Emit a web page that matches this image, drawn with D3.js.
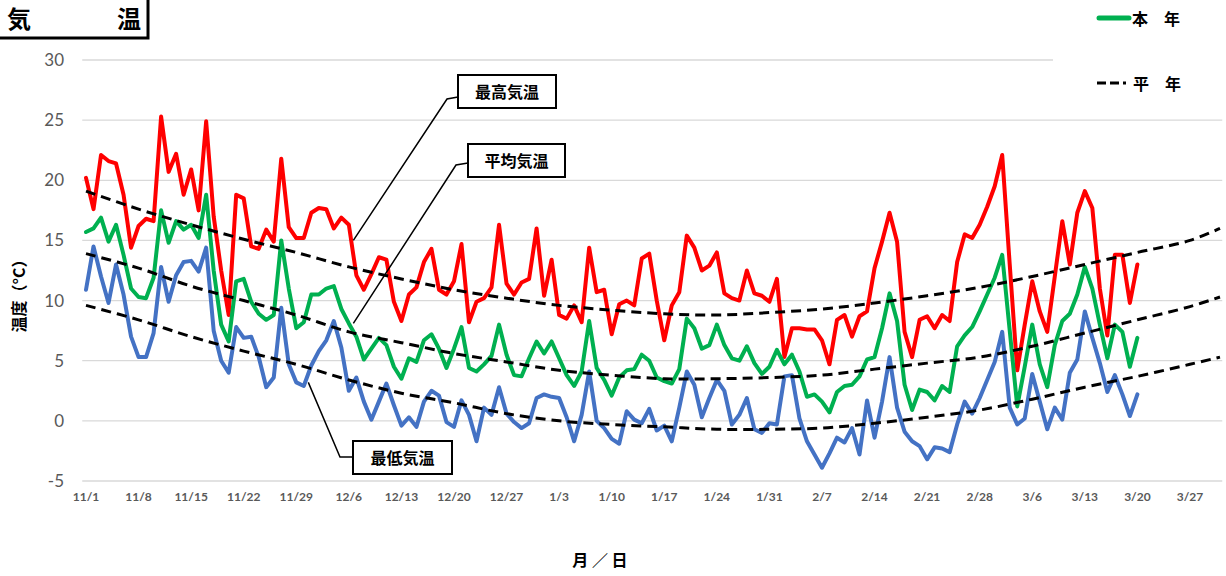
<!DOCTYPE html>
<html><head><meta charset="utf-8">
<script src="https://cdn.jsdelivr.net/npm/d3@7"></script>
<style>
html,body{margin:0;padding:0;background:#fff;}
svg{display:block;}
</style>
</head><body>
<svg id="chart" width="1226" height="576"></svg>
<script>
// ---- data ----
const tickLabels = ["11/1","11/8","11/15","11/22","11/29","12/6","12/13","12/20","12/27","1/3","1/10","1/17","1/24","1/31","2/7","2/14","2/21","2/28","3/6","3/13","3/20","3/27"];
const yTicks = [-5,0,5,10,15,20,25,30];

const tMax = [20.2,17.6,22.1,21.6,21.4,18.8,14.4,16.2,16.8,16.6,25.3,20.7,22.2,18.8,20.9,17.5,24.9,17.0,12.5,8.8,
18.8,18.5,14.5,14.3,15.9,14.9,21.8,16.1,15.2,15.2,17.3,17.7,17.6,16.0,16.9,16.3,12.1,10.9,12.2,13.6,
13.4,9.9,8.3,10.5,11.1,13.2,14.3,10.9,10.5,11.6,14.7,8.2,9.9,10.2,11.1,16.3,11.4,10.5,11.5,11.8,
16.0,10.4,13.4,8.8,8.5,9.6,8.2,14.4,10.7,10.9,7.2,9.7,10.0,9.6,13.5,13.9,10.0,6.7,9.6,10.7,
15.4,14.4,12.5,12.9,14.0,10.6,10.2,10.0,12.5,10.6,10.4,9.9,11.8,5.3,7.7,7.7,7.6,7.6,6.7,4.7,
8.4,8.8,7.0,8.7,9.1,12.7,14.9,17.3,14.9,7.4,5.3,8.4,8.7,7.7,8.8,8.3,13.2,15.5,15.2,16.3,
17.8,19.5,22.1,13.0,4.2,8.0,11.6,9.1,7.4,12.0,16.6,13.0,17.3,19.1,17.7,11.0,7.1,13.8,13.8,9.8,13.0];

const tMean = [15.7,16.0,16.9,14.9,16.3,13.8,11.0,10.3,10.2,11.9,17.5,14.8,16.6,15.9,16.3,15.2,18.8,12.5,8.0,6.6,
11.6,11.8,9.9,8.9,8.4,8.8,15.0,11.0,7.7,8.2,10.5,10.5,11.0,11.2,9.3,8.1,7.0,5.1,6.0,6.9,
6.3,4.5,3.5,5.2,4.9,6.7,7.2,6.0,4.4,6.0,7.8,4.4,4.1,4.7,5.4,8.0,5.5,3.8,3.7,5.2,
6.6,5.6,6.6,5.2,3.8,2.9,4.1,8.3,4.4,3.4,2.1,3.6,4.2,4.3,5.5,5.0,3.6,3.3,3.1,4.3,
8.5,7.7,6.0,6.3,8.0,6.3,5.2,5.0,6.2,4.8,3.9,4.5,5.9,4.7,5.5,4.1,2.0,2.2,1.6,0.7,
2.4,2.9,3.0,3.7,5.1,5.3,7.7,10.6,8.3,3.0,0.9,2.6,2.4,1.7,2.9,2.4,6.2,7.1,7.8,9.1,
10.5,11.9,13.8,7.5,1.2,4.5,8.0,4.7,2.8,6.3,8.3,8.9,10.5,12.8,11.0,8.0,5.2,8.0,7.4,4.5,6.9];

const tMin = [10.9,14.5,12.0,9.8,13.0,10.5,7.0,5.3,5.3,7.3,12.8,9.9,12.1,13.2,13.3,12.4,14.4,7.5,5.0,4.0,
7.8,6.9,7.0,5.3,2.8,3.6,9.4,4.7,3.2,2.9,4.6,5.8,6.7,8.3,6.1,2.5,3.6,1.6,0.1,1.6,
3.1,1.3,-0.4,0.3,-0.5,1.6,2.5,2.1,-0.1,-0.5,1.7,0.5,-1.7,1.1,0.5,2.8,0.6,-0.1,-0.6,-0.2,
1.9,2.2,2.0,1.9,0.3,-1.7,0.5,4.1,0.0,-0.6,-1.5,-1.9,0.8,0.1,-0.2,1.0,-0.8,-0.4,-1.7,1.1,
4.1,3.0,0.3,1.9,3.4,2.5,-0.3,0.5,1.9,-0.7,-1.0,-0.2,-0.3,3.7,3.8,0.2,-1.7,-2.8,-3.9,-2.7,
-1.4,-1.8,-0.6,-2.8,1.7,-1.4,1.6,5.3,1.1,-0.9,-1.7,-2.1,-3.2,-2.2,-2.3,-2.6,-0.3,1.6,0.6,1.9,
3.4,4.9,7.4,1.1,-0.3,0.2,3.9,1.6,-0.7,1.1,0.1,4.0,5.1,9.1,6.9,4.8,2.4,3.8,2.2,0.4,2.2];

// normals (平年), read at weekly days from 11/1 and at 3/31
const normDays = [0,7,14,21,28,35,42,49,56,63,70,77,84,91,98,105,112,119,126,133,140,147,151];
const normMax  = [19.1,17.6,16.3,15.1,14.0,12.8,11.8,10.9,10.2,9.6,9.2,8.9,8.8,9.0,9.3,9.8,10.4,11.1,12.0,13.0,14.0,15.0,16.0];
const normMean = [13.9,12.7,11.2,10.0,8.8,7.4,6.5,5.6,4.9,4.2,3.8,3.5,3.5,3.6,3.8,4.3,4.8,5.3,6.2,7.3,8.4,9.5,10.3];
const normMin  = [9.6,8.4,7.0,5.8,4.7,3.4,2.3,1.5,0.6,0.0,-0.3,-0.5,-0.7,-0.7,-0.6,-0.2,0.3,0.9,1.8,2.8,3.7,4.7,5.3];

// ---- drawing ----
const svg = d3.select("#chart");
const x = d3.scaleLinear().domain([0,151]).range([86,1220]);
const y = d3.scaleLinear().domain([-5,30]).range([481,60]);
const JP = "'Noto Sans CJK JP','Noto Sans',sans-serif";
const NUM = "Lato,'Open Sans','Liberation Sans',sans-serif";

// gridlines
svg.append("g").selectAll("line").data(yTicks).join("line")
  .attr("x1", x(-0.5)).attr("x2", x(151.3))
  .attr("y1", d=>y(d)).attr("y2", d=>y(d))
  .attr("stroke", "#d9d9d9").attr("stroke-width", 1.3);

// y tick labels
svg.append("g").selectAll("text").data(yTicks).join("text")
  .attr("x", 64).attr("y", d=>y(d)+6)
  .attr("text-anchor","end").attr("font-family",NUM).attr("font-size",17)
  .attr("fill","#595959").text(d=>d);

// x tick labels
svg.append("g").selectAll("text").data(tickLabels).join("text")
  .attr("x", (d,i)=>x(i*7)).attr("y", 501)
  .attr("text-anchor","middle").attr("font-family",NUM).attr("font-weight","bold").attr("font-size",12)
  .attr("fill","#595959").text(d=>d);

// axis titles
svg.append("text").attr("x",600).attr("y",566).attr("text-anchor","middle")
  .attr("font-family",JP).attr("font-weight","bold").attr("font-size",16).text("月 ／ 日");
svg.append("text").attr("transform","translate(25,292) rotate(-90)").attr("text-anchor","middle")
  .attr("font-family",JP).attr("font-weight","bold").attr("font-size",16).text("温度（°C）");

// data lines
const line = d3.line().x((d,i)=>x(i)).y(d=>y(d));
[[tMax,"#ff0000"],[tMean,"#00b050"],[tMin,"#4472c4"]].forEach(([arr,col])=>{
  svg.append("path").datum(arr).attr("d", line)
    .attr("fill","none").attr("stroke",col).attr("stroke-width",4)
    .attr("stroke-linejoin","round").attr("stroke-linecap","round");
});

// normal lines
const nline = d3.line().x((d,i)=>x(normDays[i])).y(d=>y(d)).curve(d3.curveCatmullRom);
[normMax,normMean,normMin].forEach(arr=>{
  svg.append("path").datum(arr).attr("d", nline)
    .attr("fill","none").attr("stroke","#000").attr("stroke-width",3)
    .attr("stroke-dasharray","10,6");
});

// legend (white background covering top-right gridline)
svg.append("rect").attr("x",1053).attr("y",0).attr("width",173).attr("height",105).attr("fill","#fff");
svg.append("line").attr("x1",1099).attr("x2",1129).attr("y1",18).attr("y2",18)
  .attr("stroke","#00b050").attr("stroke-width",5).attr("stroke-linecap","round");
svg.append("text").attr("x",1132).attr("y",25).attr("font-family",JP).attr("font-weight","bold")
  .attr("font-size",16).text("本　年");
svg.append("line").attr("x1",1097).attr("x2",1131).attr("y1",83).attr("y2",83)
  .attr("stroke","#000").attr("stroke-width",3).attr("stroke-dasharray","9,4,9,4,3");
svg.append("text").attr("x",1133).attr("y",90).attr("font-family",JP).attr("font-weight","bold")
  .attr("font-size",16).text("平　年");

// title box
svg.append("rect").attr("x",-2).attr("y",-2).attr("width",150).attr("height",40)
  .attr("fill","#fff").attr("stroke","#000").attr("stroke-width",3);
svg.append("text").attr("x",7).attr("y",28).attr("font-family",JP).attr("font-weight","bold")
  .attr("font-size",24).text("気");
svg.append("text").attr("x",117).attr("y",28).attr("font-family",JP).attr("font-weight","bold")
  .attr("font-size",24).text("温");

// callouts
const callouts = [
  {label:"最高気温", box:[458,75,98,33], pts:[[458,97],[447,99],[x(35.6),y(15.0)]]},
  {label:"平均気温", box:[468,144,97,33], pts:[[468,163],[456,165],[x(35.6),y(8.1)]]},
  {label:"最低気温", box:[353,441,99,33], pts:[[353,457],[340,457],[x(29.6),y(3.2)]]}
];
callouts.forEach(c=>{
  svg.append("path").attr("d", d3.line()(c.pts)).attr("fill","none")
    .attr("stroke","#000").attr("stroke-width",1.5);
  const [bx,by,bw,bh] = c.box;
  svg.append("rect").attr("x",bx).attr("y",by).attr("width",bw).attr("height",bh)
    .attr("fill","#fff").attr("stroke","#000").attr("stroke-width",2);
  svg.append("text").attr("x",bx+bw/2).attr("y",by+bh/2+6).attr("text-anchor","middle")
    .attr("font-family",JP).attr("font-weight","bold").attr("font-size",16).text(c.label);
});
</script>
</body></html>
